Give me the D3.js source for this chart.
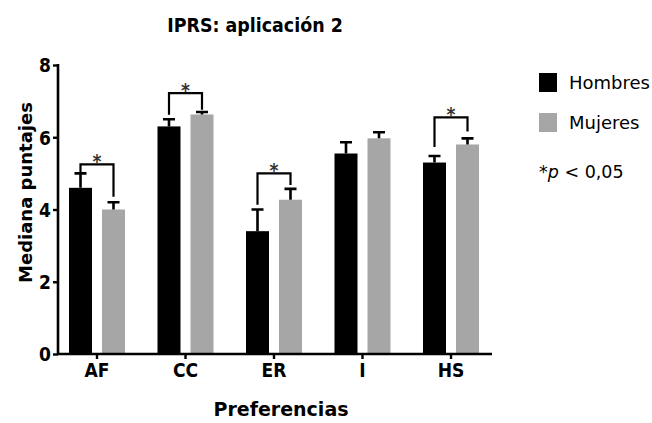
<!DOCTYPE html>
<html><head><meta charset="utf-8">
<script src="https://cdn.jsdelivr.net/npm/d3@7"></script>
<style>
body{margin:0;background:#fff;}
svg{display:block;}
text{font-family:"DejaVu Sans Condensed","DejaVu Sans",sans-serif;}
.wide{font-family:"DejaVu Sans",sans-serif;}
</style></head>
<body><svg id="c" width="652" height="423"></svg>
<script>
const categories = ["AF","CC","ER","I","HS"];
const seriesNames = ["Hombres","Mujeres"];
const hombres = [4.6, 6.3, 3.4, 5.55, 5.3];
const mujeres = [4.0, 6.63, 4.27, 5.97, 5.8];
const hombresErr = [5.0, 6.5, 4.0, 5.86, 5.48];
const mujeresErr = [4.2, 6.7, 4.57, 6.14, 5.97];
const yTicks = [0,2,4,6,8];
// significance brackets: category, top value, left leg end, right leg end
const sigCats = ["AF","CC","ER","HS"];
const sigTop = [5.25, 7.22, 5.0, 6.55];
const sigLeft = [5.0, 6.62, 4.13, 5.73];
const sigRight = [4.35, 6.76, 4.68, 6.16];

const svg = d3.select("#c");
const colors = ["#000000","#a6a6a6"];
const x = d3.scaleBand().domain(categories).range([52.75, 495.25]);
const y = d3.scaleLinear().domain([0,8]).range([354,65]);
const off = [-16.5, 16.5], bw = 23;

const g = svg.append("g");
const series = [hombres, mujeres];
const errs = [hombresErr, mujeresErr];
series.forEach((vals,si)=>{
  g.selectAll(null).data(categories).enter().append("rect")
    .attr("x",c=>x(c)+x.bandwidth()/2+off[si]-bw/2)
    .attr("width",bw)
    .attr("y",(c,i)=>y(vals[i]))
    .attr("height",(c,i)=>y(0)-y(vals[i]))
    .attr("fill",colors[si]);
  g.selectAll(null).data(categories).enter().append("path")
    .attr("d",(c,i)=>{
      const cx = x(c)+x.bandwidth()/2+off[si];
      return `M${cx},${y(vals[i])}V${y(errs[si][i])}M${cx-6},${y(errs[si][i])}H${cx+6}`;
    })
    .attr("stroke","#000").attr("stroke-width",2.6).attr("fill","none");
});

sigCats.forEach((c,i)=>{
  const cx = x(c)+x.bandwidth()/2;
  const l = cx+off[0], r = cx+off[1];
  g.append("path")
    .attr("d",`M${l},${y(sigLeft[i])}V${y(sigTop[i])}H${r}V${y(sigRight[i])}`)
    .attr("stroke","#000").attr("stroke-width",2.2).attr("fill","none");
  g.append("text").attr("x",cx).attr("y",y(sigTop[i])+4)
    .attr("text-anchor","middle").attr("font-size",19).attr("font-weight","bold")
    .attr("fill","#333").text("*");
});

const yAxis = d3.axisLeft(y).tickValues(yTicks).tickSize(5).tickPadding(2).tickFormat(d3.format("d"));
const ya = svg.append("g").attr("transform","translate(58,0)").call(yAxis);
ya.select(".domain").attr("d","M0,"+(y(0)+1)+"V"+(y(8)-1)).attr("stroke-width",2.6);
ya.selectAll(".tick line").attr("stroke-width",2.4);
ya.selectAll(".tick text").attr("font-size",19).attr("font-weight","bold").attr("fill","#000").attr("dy","0.36em");

const xAxis = d3.axisBottom(x).tickSize(5).tickPadding(5);
const xa = svg.append("g").attr("transform","translate(0,354)").call(xAxis);
xa.select(".domain").attr("d","M57,0H492").attr("stroke-width",2.6);
xa.selectAll(".tick line").attr("stroke-width",2.4);
xa.selectAll(".tick text").attr("font-size",19).attr("font-weight","bold").attr("fill","#000");

svg.append("text").attr("x",255).attr("y",32).attr("text-anchor","middle")
  .attr("font-size",19.4).attr("font-weight","bold").text("IPRS: aplicación 2");
svg.append("text").attr("class","wide").attr("x",281).attr("y",416).attr("text-anchor","middle")
  .attr("font-size",19).attr("font-weight","bold").text("Preferencias");
svg.append("text").attr("class","wide").attr("transform","translate(32,192.5) rotate(-90)").attr("text-anchor","middle")
  .attr("font-size",18).attr("font-weight","bold").text("Mediana puntajes");

const leg = svg.append("g");
seriesNames.forEach((n,i)=>{
  leg.append("rect").attr("x",539).attr("y",73+i*40).attr("width",18).attr("height",19).attr("fill",colors[i]);
  leg.append("text").attr("class","wide").attr("x",569).attr("y",89+i*40).attr("font-size",18).text(n);
});
const pt = leg.append("text").attr("class","wide").attr("x",539).attr("y",178).attr("font-size",17.5);
pt.append("tspan").text("*");
pt.append("tspan").attr("font-style","italic").text("p");
pt.append("tspan").text(" < 0,05");
</script></body></html>
